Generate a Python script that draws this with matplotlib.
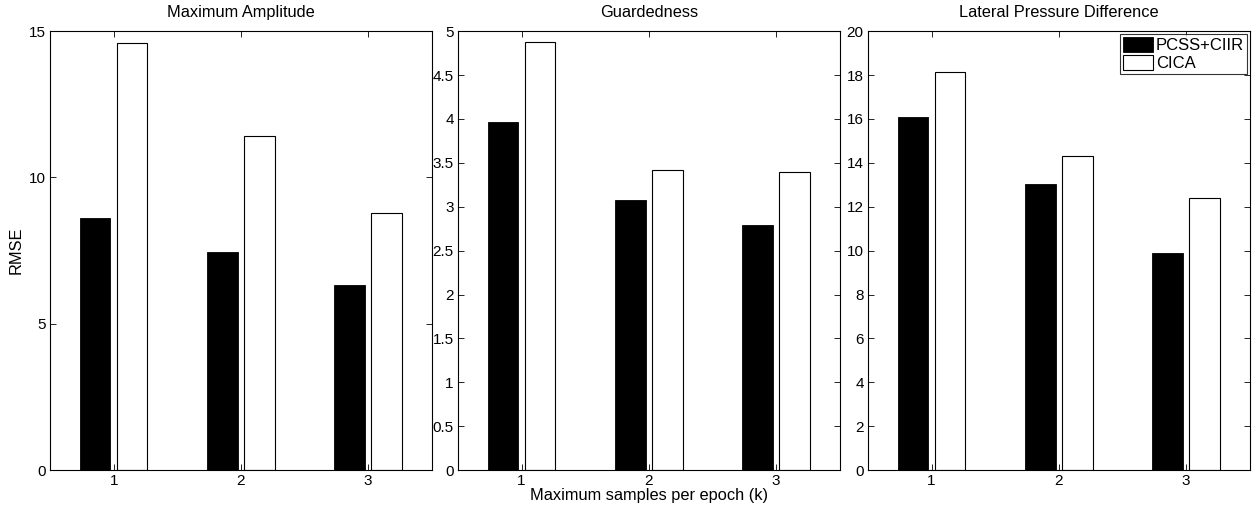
import numpy as np
import matplotlib
matplotlib.use("Agg")
import matplotlib.pyplot as plt

plt.rcParams['font.family'] = ['Liberation Sans', 'DejaVu Sans']

groups = [1, 2, 3]
titles = ["Maximum Amplitude", "Guardedness", "Lateral Pressure Difference"]

# RMSE values
amp_pcss = [8.62, 7.45, 6.32]
amp_cica = [14.6, 11.43, 8.78]
guard_pcss = [3.97, 3.08, 2.79]
guard_cica = [4.88, 3.42, 3.40]
lat_pcss = [16.1, 13.02, 9.88]
lat_cica = [18.15, 14.33, 12.38]

series = [(amp_pcss, amp_cica), (guard_pcss, guard_cica), (lat_pcss, lat_cica)]
ylims = [(0, 15), (0, 5), (0, 20)]
yticks = [np.arange(0, 16, 5), np.arange(0, 5.01, 0.5), np.arange(0, 21, 2)]

fig = plt.figure(figsize=(12.56, 5.11), dpi=100)
lefts = [0.0398, 0.3646, 0.691]
width = 0.304
axes = []
for i in range(3):
    ax = fig.add_axes([lefts[i], 0.080, width, 0.859])
    axes.append(ax)
    pcss, cica = series[i]
    x = np.array(groups)
    ax.bar(x - 0.145, pcss, width=0.24, color="black", edgecolor="black",
           linewidth=0.6, label="PCSS+CIIR")
    ax.bar(x + 0.145, cica, width=0.24, color="white", edgecolor="black",
           linewidth=0.8, label="CICA")
    ax.set_xlim(0.5, 3.5)
    ax.set_ylim(*ylims[i])
    ax.set_xticks(groups)
    ax.set_yticks(yticks[i])
    ax.set_yticklabels([f"{v:g}" for v in yticks[i]])
    ax.tick_params(direction="in", top=True, right=True, labelsize=11,
                   length=4, width=0.6, pad=3)
    for s in ax.spines.values():
        s.set_linewidth(0.8)
    ax.set_title(titles[i], fontsize=11.8, pad=10)

axes[0].set_ylabel("RMSE", fontsize=11.8, labelpad=4)
axes[1].set_xlabel("Maximum samples per epoch (k)", fontsize=11.8, labelpad=0)

leg = axes[2].legend(loc="upper right", fontsize=12, frameon=True, fancybox=False,
                     edgecolor="black", handlelength=1.8, handleheight=1.0,
                     handletextpad=0.15, borderpad=0.2, labelspacing=0.1,
                     borderaxespad=0.15)
leg.get_frame().set_linewidth(0.8)

plt.savefig("out.png", dpi=100)
